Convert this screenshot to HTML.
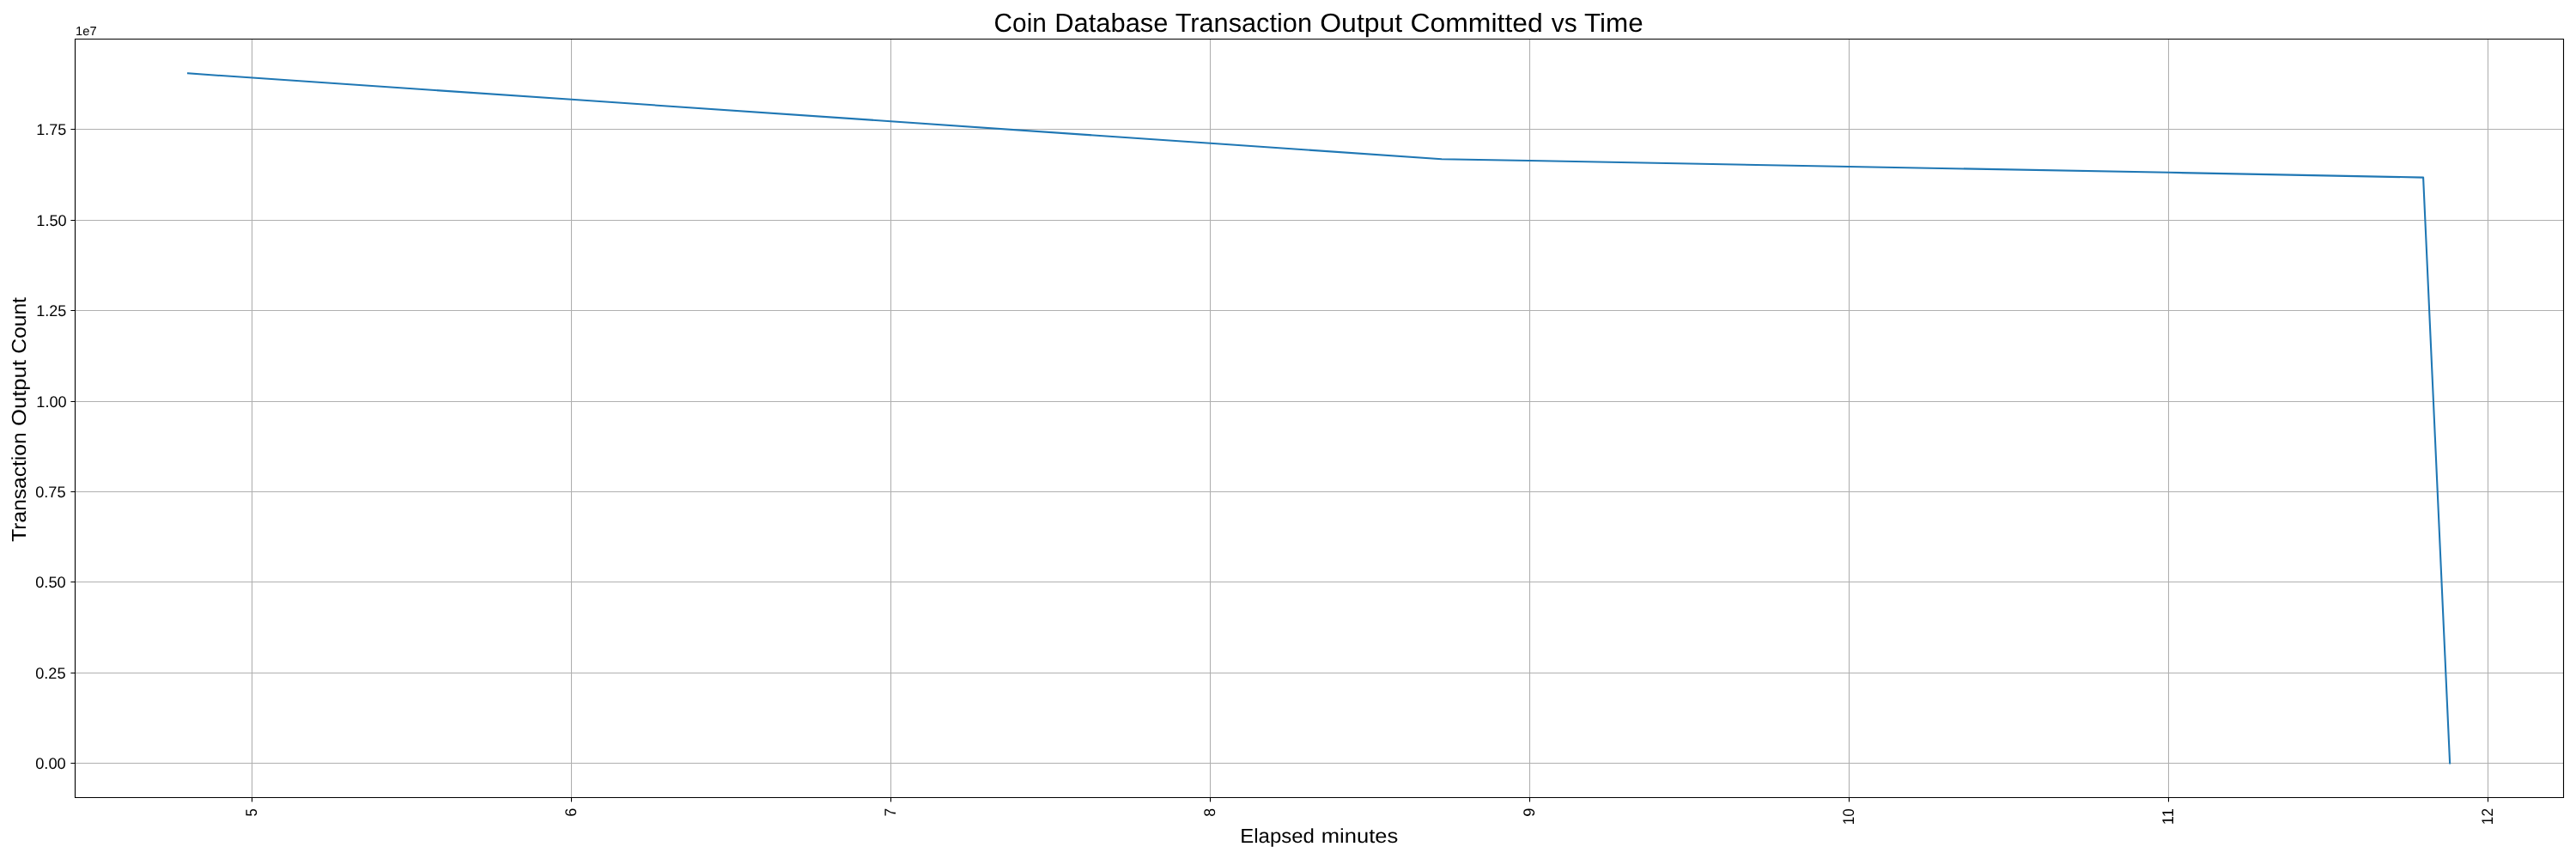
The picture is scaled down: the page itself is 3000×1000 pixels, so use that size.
<!DOCTYPE html>
<html lang="en"><head><meta charset="utf-8"><title>Coin Database Transaction Output Committed vs Time</title>
<style>html,body{margin:0;padding:0;background:#fff;width:3000px;height:1000px;overflow:hidden}svg{display:block;will-change:transform}text{font-family:"Liberation Sans",sans-serif;fill:#000;text-rendering:geometricPrecision}</style></head><body>
<svg width="3000" height="1000" viewBox="0 0 3000 1000">
<rect x="0" y="0" width="3000" height="1000" fill="#fff"/>
<g id="grid">
<path d="M293.5 45.5V928.5M665.5 45.5V928.5M1037.5 45.5V928.5M1409.5 45.5V928.5M1781.5 45.5V928.5M2153.5 45.5V928.5M2525.5 45.5V928.5M2897.5 45.5V928.5M87.5 888.5H2985.5M87.5 783.5H2985.5M87.5 677.5H2985.5M87.5 572.5H2985.5M87.5 467.5H2985.5M87.5 361.5H2985.5M87.5 256.5H2985.5M87.5 150.5H2985.5" stroke="#b0b0b0" stroke-width="1.111" fill="none"/>
</g>
<path d="M219.0 85.4 L665.5 115.83 L1037.5 141.24 L1409.5 166.78 L1679 185.3 L1781.5 187.0 L2153.5 193.97 L2525.5 200.83 L2822.1 206.6 L2853.1 888.5" stroke="#1f77b4" stroke-width="2.083" fill="none" stroke-linejoin="round" stroke-linecap="square"/>
<path d="M87.5 45.5H2985.5V928.5H87.5Z" stroke="#000" stroke-width="1.111" fill="none" stroke-linejoin="miter"/>
<path d="M293.5 928.5v5.1M665.5 928.5v5.1M1037.5 928.5v5.1M1409.5 928.5v5.1M1781.5 928.5v5.1M2153.5 928.5v5.1M2525.5 928.5v5.1M2897.5 928.5v5.1M87.5 888.5h-5.1M87.5 783.5h-5.1M87.5 677.5h-5.1M87.5 572.5h-5.1M87.5 467.5h-5.1M87.5 361.5h-5.1M87.5 256.5h-5.1M87.5 150.5h-5.1" stroke="#000" stroke-width="1.111" fill="none"/>
<g id="yticklabels">
<text x="41.18" y="894.50" font-size="18.30" textLength="35.63" lengthAdjust="spacingAndGlyphs">0.00</text>
<text x="41.19" y="789.50" font-size="18.30" textLength="35.37" lengthAdjust="spacingAndGlyphs">0.25</text>
<text x="41.19" y="683.50" font-size="18.30" textLength="35.53" lengthAdjust="spacingAndGlyphs">0.50</text>
<text x="41.19" y="578.50" font-size="18.30" textLength="35.37" lengthAdjust="spacingAndGlyphs">0.75</text>
<text x="42.32" y="473.50" font-size="18.30" textLength="35.35" lengthAdjust="spacingAndGlyphs">1.00</text>
<text x="42.33" y="367.50" font-size="18.30" textLength="35.03" lengthAdjust="spacingAndGlyphs">1.25</text>
<text x="42.32" y="262.50" font-size="18.30" textLength="35.35" lengthAdjust="spacingAndGlyphs">1.50</text>
<text x="42.33" y="156.50" font-size="18.30" textLength="35.03" lengthAdjust="spacingAndGlyphs">1.75</text>
</g>
<g id="xticklabels">
<text transform="translate(299.10,950.38) rotate(-90)" font-size="18.30" textLength="9.22" lengthAdjust="spacingAndGlyphs">5</text>
<text transform="translate(671.10,950.76) rotate(-90)" font-size="18.30" textLength="10.11" lengthAdjust="spacingAndGlyphs">6</text>
<text transform="translate(1043.10,950.52) rotate(-90)" font-size="18.30" textLength="9.56" lengthAdjust="spacingAndGlyphs">7</text>
<text transform="translate(1415.10,950.64) rotate(-90)" font-size="18.30" textLength="9.88" lengthAdjust="spacingAndGlyphs">8</text>
<text transform="translate(1787.10,950.80) rotate(-90)" font-size="18.30" textLength="10.09" lengthAdjust="spacingAndGlyphs">9</text>
<text transform="translate(2159.10,960.14) rotate(-90)" font-size="18.30" textLength="18.91" lengthAdjust="spacingAndGlyphs">10</text>
<text transform="translate(2531.10,960.16) rotate(-90)" font-size="18.30" textLength="19.10" lengthAdjust="spacingAndGlyphs">11</text>
<text transform="translate(2903.10,960.16) rotate(-90)" font-size="18.30" textLength="19.12" lengthAdjust="spacingAndGlyphs">12</text>
</g>
<text x="88.08" y="40.90" font-size="14.40" textLength="24.56" lengthAdjust="spacingAndGlyphs">1e7</text>
<g id="title">
<text x="1157.58" y="37.00" font-size="30.52" textLength="61.24" lengthAdjust="spacingAndGlyphs">Coin</text>
<text x="1228.27" y="37.00" font-size="30.52" textLength="132.24" lengthAdjust="spacingAndGlyphs">Database</text>
<text x="1368.68" y="37.00" font-size="30.52" textLength="159.30" lengthAdjust="spacingAndGlyphs">Transaction</text>
<text x="1537.23" y="37.00" font-size="30.52" textLength="96.02" lengthAdjust="spacingAndGlyphs">Output</text>
<text x="1642.44" y="37.00" font-size="30.52" textLength="154.33" lengthAdjust="spacingAndGlyphs">Committed</text>
<text x="1806.79" y="37.00" font-size="30.52" textLength="29.91" lengthAdjust="spacingAndGlyphs">vs</text>
<text x="1845.03" y="37.00" font-size="30.52" textLength="68.65" lengthAdjust="spacingAndGlyphs">Time</text>
</g>
<g id="xlabel">
<text x="1444.31" y="981.10" font-size="23.26" textLength="86.60" lengthAdjust="spacingAndGlyphs">Elapsed</text>
<text x="1538.78" y="981.10" font-size="23.26" textLength="89.47" lengthAdjust="spacingAndGlyphs">minutes</text>
</g>
<g id="ylabel">
<text transform="translate(30.00,630.78) rotate(-90)" font-size="23.26" textLength="127.43" lengthAdjust="spacingAndGlyphs">Transaction</text>
<text transform="translate(30.00,495.95) rotate(-90)" font-size="23.26" textLength="76.81" lengthAdjust="spacingAndGlyphs">Output</text>
<text transform="translate(30.00,411.73) rotate(-90)" font-size="23.26" textLength="65.64" lengthAdjust="spacingAndGlyphs">Count</text>
</g>
</svg>
</body></html>
